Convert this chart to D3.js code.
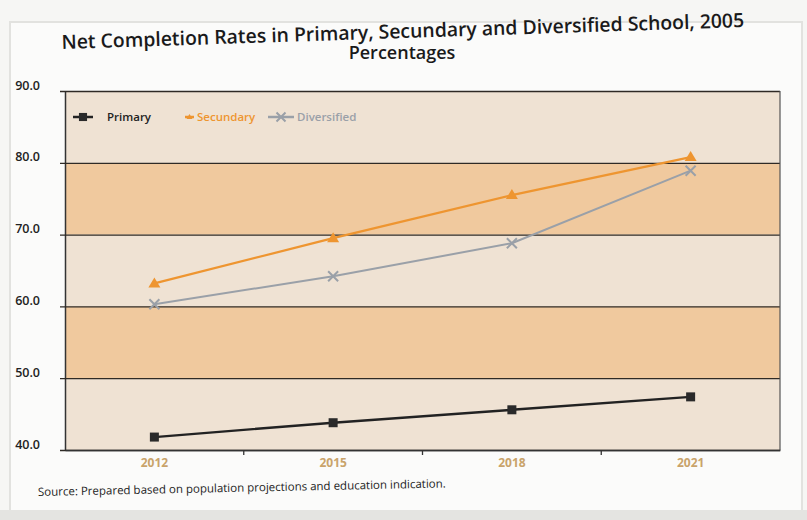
<!DOCTYPE html>
<html><head><meta charset="utf-8">
<script src="https://cdn.jsdelivr.net/npm/d3@7"></script>
<style>body{margin:0;background:#fff;}svg{display:block;}</style>
</head><body>
<script>
const years = ["2012", "2015", "2018", "2021"];
const primary = [41.8, 43.8, 45.6, 47.4];
const secundary = [63.2, 69.5, 75.5, 80.8];
const diversified = [60.3, 64.2, 68.8, 78.9];
const yTicks = [40, 50, 60, 70, 80, 90];
const seriesNames = ["Primary", "Secundary", "Diversified"];

const W = 807, H = 520;
const m = {left: 65, right: 780, top: 91, bottom: 450};
const svg = d3.select("body").append("svg").attr("width", W).attr("height", H);

// page background / frame
svg.append("rect").attr("width", W).attr("height", H).attr("fill", "#f6f6f4");
svg.append("rect").attr("x", 10).attr("y", 22).attr("width", 792).attr("height", 490)
  .attr("fill", "#fbfbfa").attr("stroke", "#e2e2df").attr("stroke-width", 2);
svg.append("rect").attr("x", 0).attr("y", 510).attr("width", W).attr("height", 10).attr("fill", "#e4e4e1");

const x = d3.scaleBand().domain(years).range([m.left, m.right]);
const y = d3.scaleLinear().domain([40, 90]).range([m.bottom, m.top]);

// bands
for (let i = 0; i < yTicks.length - 1; i++) {
  svg.append("rect").attr("x", m.left).attr("width", m.right - m.left)
    .attr("y", y(yTicks[i + 1])).attr("height", y(yTicks[i]) - y(yTicks[i + 1]))
    .attr("fill", i % 2 === 0 ? "#efe2d3" : "#f0c99e");
}
// gridlines + y axis
const yAxis = d3.axisLeft(y).tickValues(yTicks).tickFormat(d3.format(".1f"))
  .tickSize(-(m.right - m.left)).tickSizeOuter(0).tickPadding(25);
const gy = svg.append("g").attr("transform", `translate(${m.left},0)`).call(yAxis);
gy.select(".domain").attr("stroke", "#333").attr("stroke-width", 1.5);
gy.selectAll(".tick line").attr("stroke", "#2f2a25").attr("stroke-width", 1.3).attr("x1", -5);
gy.selectAll(".tick text").attr("fill", "#222").attr("font-family", "Open Sans, sans-serif")
  .attr("font-size", 12.5).attr("font-weight", 600).attr("dy", "-0.15em");
// right border
svg.append("line").attr("x1", m.right).attr("x2", m.right).attr("y1", m.top).attr("y2", m.bottom)
  .attr("stroke", "#555").attr("stroke-width", 1.2);

// x axis
const xAxis = d3.axisBottom(x).tickSize(0).tickSizeOuter(0).tickPadding(8);
const gx = svg.append("g").attr("transform", `translate(0,${m.bottom})`).call(xAxis);
gx.select(".domain").attr("stroke", "#333").attr("stroke-width", 1.5);
gx.selectAll(".tick text").attr("fill", "#c9a36a").attr("font-family", "Open Sans, sans-serif")
  .attr("font-size", 12).attr("font-weight", 700);
// boundary ticks between categories
years.slice(1).forEach(yr => {
  svg.append("line").attr("x1", x(yr)).attr("x2", x(yr)).attr("y1", m.bottom).attr("y2", m.bottom + 5)
    .attr("stroke", "#333").attr("stroke-width", 1.3);
});

const cx = d => x(d) + x.bandwidth() / 2;
const line = d3.line().x((d, i) => cx(years[i])).y(d => y(d));

const series = [
  {name: seriesNames[0], vals: primary, color: "#222", marker: "square", w: 2.4},
  {name: seriesNames[1], vals: secundary, color: "#ee9530", marker: "triangle", w: 2.2},
  {name: seriesNames[2], vals: diversified, color: "#9aa0a8", marker: "x", w: 2}
];

function drawMarker(g, type, px, py, color, s = 1) {
  if (type === "square") {
    g.append("rect").attr("x", px - 4.5 * s).attr("y", py - 4.5 * s).attr("width", 9 * s).attr("height", 9 * s).attr("fill", "#2a2a2a");
  } else if (type === "triangle") {
    g.append("path").attr("d", `M${px},${py - 6 * s}L${px + 6 * s},${py + 4 * s}L${px - 6 * s},${py + 4 * s}Z`).attr("fill", color);
  } else {
    g.append("path").attr("d", `M${px - 5 * s},${py - 5 * s}L${px + 5 * s},${py + 5 * s}M${px - 5 * s},${py + 5 * s}L${px + 5 * s},${py - 5 * s}`)
      .attr("stroke", color).attr("stroke-width", 2);
  }
}

series.forEach(s => {
  svg.append("path").datum(s.vals).attr("d", line).attr("fill", "none")
    .attr("stroke", s.color).attr("stroke-width", s.w);
  const g = svg.append("g");
  s.vals.forEach((v, i) => drawMarker(g, s.marker, cx(years[i]), y(v), s.color));
});

// legend
const lg = svg.append("g").attr("font-family", "Open Sans, sans-serif").attr("font-size", 11.5).attr("font-weight", 600);
const legendX = [73, 185, 268];
const legendLen = [20, 9, 26];
const legendTextX = [107, 197, 297];
series.forEach((s, i) => {
  const lx = legendX[i], ly = 117;
  const len = legendLen[i];
  lg.append("line").attr("x1", lx).attr("x2", lx + len).attr("y1", ly).attr("y2", ly)
    .attr("stroke", s.color).attr("stroke-width", 2.5);
  drawMarker(lg, s.marker, lx + len / 2, ly, s.color, i === 1 ? 0.5 : 0.9);
  lg.append("text").attr("x", legendTextX[i]).attr("y", ly + 4).attr("fill", i === 0 ? "#222" : s.color).text(s.name);
});

// title
const tg = svg.append("g").attr("font-family", "Open Sans, sans-serif").attr("font-weight", 600)
  .attr("fill", "#1a1a1a").attr("text-anchor", "middle");
tg.append("text").attr("x", 403).attr("y", 38).attr("font-size", 19.5)
  .attr("textLength", 683).attr("lengthAdjust", "spacingAndGlyphs")
  .attr("transform", "rotate(-1.85 403 38)")
  .text("Net Completion Rates in Primary, Secundary and Diversified School, 2005");
tg.append("text").attr("x", 402).attr("y", 59).attr("font-size", 18).text("Percentages");

// source
svg.append("text").attr("x", 38).attr("y", 496).attr("font-family", "Open Sans, sans-serif")
  .attr("font-size", 11.5).attr("fill", "#222")
  .attr("transform", "rotate(-1.2 38 496)")
  .text("Source: Prepared based on population projections and education indication.");
</script>
</body></html>
